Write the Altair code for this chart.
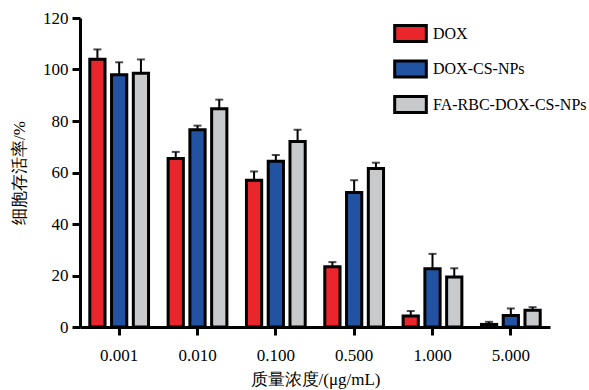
import altair as alt
import pandas as pd

# Cell viability (%) for each formulation at each mass concentration
concentrations = ["0.001", "0.010", "0.100", "0.500", "1.000", "5.000"]
groups = ["DOX", "DOX-CS-NPs", "FA-RBC-DOX-CS-NPs"]
dox = [104.0, 65.4, 57.0, 23.4, 4.3, 1.0]
dox_err = [3.8, 2.6, 3.4, 1.8, 1.9, 1.0]
cs_nps = [98.0, 76.6, 64.4, 52.2, 22.6, 4.5]
cs_nps_err = [4.8, 1.6, 2.4, 4.8, 5.8, 2.7]
fa_nps = [98.5, 84.8, 72.0, 61.6, 19.4, 6.5]
fa_nps_err = [5.4, 3.5, 4.6, 2.2, 3.4, 1.2]
colors = ["#E8262B", "#2253A3", "#C8C9CB"]

rows = []
for name, vals, errs in zip(groups, [dox, cs_nps, fa_nps], [dox_err, cs_nps_err, fa_nps_err]):
    for c, v, e in zip(concentrations, vals, errs):
        rows.append({"conc": c, "group": name, "value": v, "upper": v + e})
df = pd.DataFrame(rows)

serif = "Liberation Serif"

x_enc = alt.X(
    "conc:N",
    sort=concentrations,
    scale=alt.Scale(paddingInner=0.25, paddingOuter=0.125),
    axis=alt.Axis(
        title="质量浓度/(μg/mL)",
        labelAngle=0,
        labelPadding=12,
        tickSize=8,
        tickWidth=3,
        domainWidth=3,
        titlePadding=8,
    ),
)
off_enc = alt.XOffset(
    "group:N", sort=groups, scale=alt.Scale(paddingInner=0.3, paddingOuter=0)
)
y_scale = alt.Scale(domain=[0, 120], nice=False)

bars = alt.Chart(df).mark_bar(stroke="black", strokeWidth=3).encode(
    x=x_enc,
    xOffset=off_enc,
    y=alt.Y(
        "value:Q",
        scale=y_scale,
        axis=alt.Axis(
            title="细胞存活率/%",
            values=[0, 20, 40, 60, 80, 100, 120],
            grid=False,
            tickSize=8,
            tickWidth=3,
            domainWidth=3,
            labelPadding=4,
            titlePadding=14,
        ),
    ),
    fill=alt.Fill(
        "group:N",
        sort=groups,
        scale=alt.Scale(domain=groups, range=colors),
        legend=alt.Legend(
            title=None,
            orient="none",
            legendX=313,
            legendY=-2,
            symbolType="M-1,-0.5H1V0.5H-1Z",
            symbolSize=1000,
            symbolStrokeColor="black",
            symbolStrokeWidth=3,
            symbolOpacity=1,
            labelFont=serif,
            labelFontSize=16,
            labelColor="black",
            labelOffset=5,
            rowPadding=3.5,
        ),
    ),
)

err_line = alt.Chart(df).mark_rule(color="black", strokeWidth=2).encode(
    x=x_enc,
    xOffset=off_enc,
    y=alt.Y("value:Q", scale=y_scale),
    y2="upper:Q",
)

err_cap = alt.Chart(df).mark_tick(
    color="black", orient="horizontal", size=8, thickness=2
).encode(
    x=x_enc,
    xOffset=off_enc,
    y=alt.Y("upper:Q", scale=y_scale),
)

chart = (
    alt.layer(bars, err_line, err_cap)
    .properties(
        width=470,
        height=309,
        autosize=alt.AutoSizeParams(type="none"),
        padding={"left": 80, "top": 18, "right": 39, "bottom": 63},
    )
    .configure_view(stroke=None)
    .configure_axis(
        labelFont=serif,
        labelFontSize=17,
        labelColor="black",
        titleFont=serif,
        titleFontSize=17,
        titleFontWeight="normal",
        titleColor="black",
        domainColor="black",
        tickColor="black",
    )
)

chart.save("out.html", embed_options={"renderer": "svg", "actions": False})
